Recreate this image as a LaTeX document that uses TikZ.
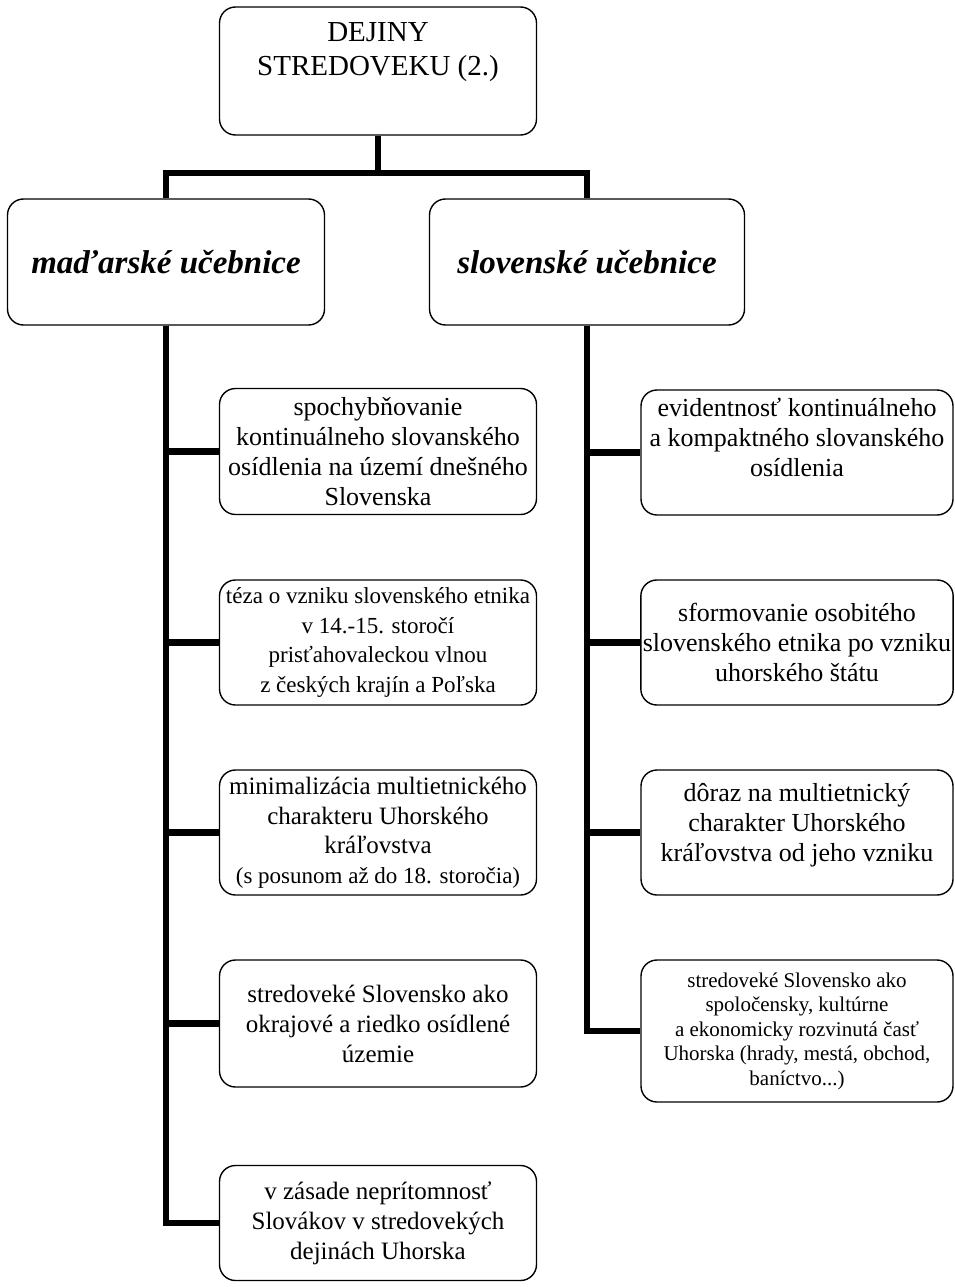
\documentclass[tikz,border=0pt]{standalone}
\usepackage{fontspec}
\setmainfont{Liberation Serif}
\begin{document}
\begin{tikzpicture}[x=1pt, y=-1pt,
  every node/.style = {shape=rectangle, rounded corners=16pt,
    draw, line width=1.4pt, align=center, inner sep=2pt,
    font=\fontsize{26}{30}\selectfont},
  lbox/.style = {minimum width=317pt, minimum height=126pt},
  rbox/.style = {minimum width=312pt, minimum height=125pt},
  head/.style = {minimum height=126pt,
    font=\fontsize{33}{38}\selectfont\bfseries\itshape},
  conn/.style = {line width=6.5pt}]
  \useasboundingbox (0,0) rectangle (955,1287);
  \node[lbox, minimum height=128pt, font=\fontsize{29}{34}\selectfont] (root) at (378,71)
    {DEJINY\\ STREDOVEKU (2.)\\[10pt] \mbox{}};
  \coordinate (bar) at (0,173);
  \node[head, minimum width=317pt] (hu) at (166,262) {maďarské učebnice};
  \node[head, minimum width=315pt] (sk) at (587,262) {slovenské učebnice};
  % left column
  \node[lbox] (hu1) at (378,451.5) {spochybňovanie\\ kontinuálneho slovanského\\
    osídlenia na území dnešného\\ Slovenska};
  \node[lbox, minimum height=125pt, font=\fontsize{23}{29.5}\selectfont] (hu2) at (378,642.5)
    {téza o vzniku slovenského etnika\\ v 14.-15. storočí\\
    prisťahovaleckou vlnou\\ z českých krajín a Poľska};
  \node[lbox, minimum height=125pt, font=\fontsize{25}{29.5}\selectfont] (hu3) at (378,832.5)
    {minimalizácia multietnického\\ charakteru Uhorského\\ kráľovstva\\
    {\fontsize{23}{29.5}\selectfont (s posunom až do 18. storočia)}};
  \node[lbox, minimum height=127pt, font=\fontsize{25}{30}\selectfont] (hu4) at (378,1023.5)
    {stredoveké Slovensko ako\\ okrajové a riedko osídlené\\ územie};
  \node[lbox, minimum height=115pt, font=\fontsize{25}{30}\selectfont] (hu5) at (378,1223)
    {v zásade neprítomnosť\\ Slovákov v stredovekých\\ dejinách Uhorska};
  % right column
  \node[rbox] (sk1) at (797,452.5) {evidentnosť kontinuálneho\\
    a kompaktného slovanského\\ osídlenia\\ \mbox{}};
  \node[rbox] (sk2) at (797,642.5) {sformovanie osobitého\\
    slovenského etnika po vzniku\\ uhorského štátu};
  \node[rbox] (sk3) at (797,832.5) {dôraz na multietnický\\
    charakter Uhorského\\ kráľovstva od jeho vzniku\\[-10pt] \mbox{}};
  \node[rbox, minimum height=142pt, font=\fontsize{21}{24.5}\selectfont] (sk4) at (797,1031)
    {stredoveké Slovensko ako\\ spoločensky, kultúrne\\
    a ekonomicky rozvinutá časť\\ Uhorska (hrady, mestá, obchod,\\ baníctvo...)};
  % connectors
  \draw[conn] (root.south) -- (bar -| root);
  \draw[conn] (hu.north) |- (bar -| root) -| (sk.north);
  \foreach \c in {hu1,hu2,hu3,hu4,hu5}
    \draw[conn] (hu.south) |- (\c.west);
  \foreach \c in {sk1,sk2,sk3,sk4}
    \draw[conn] (sk.south) |- (\c.west);
\end{tikzpicture}
\end{document}
